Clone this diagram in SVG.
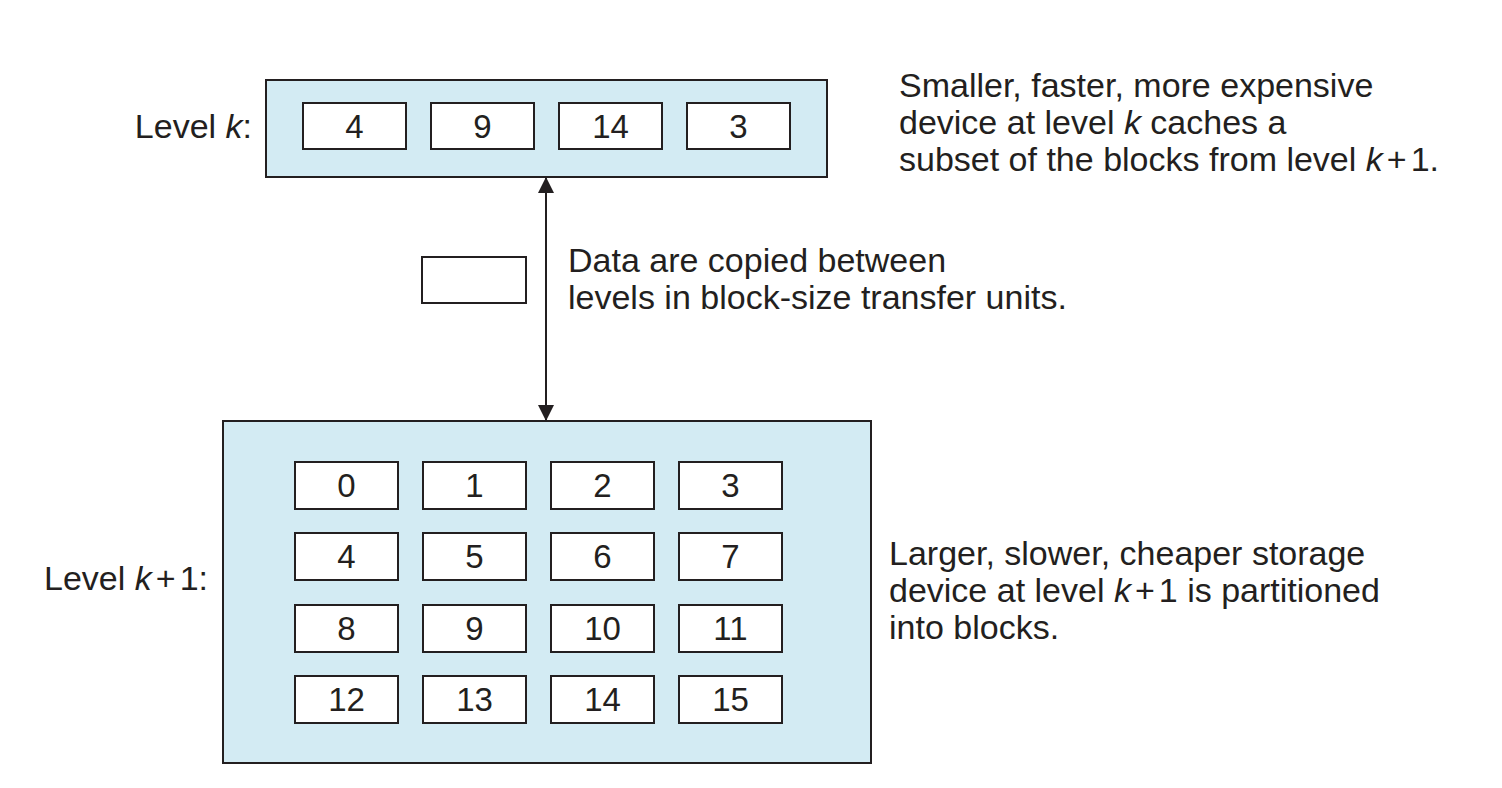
<svg xmlns="http://www.w3.org/2000/svg" width="1502" height="788" viewBox="0 0 1502 788">
<style>
text{font-family:"Liberation Sans",Arial,sans-serif;font-size:34px;fill:#231f20}
.num{text-anchor:middle;font-size:33px}
.lvl{fill:#d3ebf3;stroke:#231f20;stroke-width:2}
.blk{fill:#ffffff;stroke:#231f20;stroke-width:2}
.i{font-style:italic}
</style>
<defs>
<marker id="ah" viewBox="0 0 16 16" refX="15" refY="8" markerWidth="16" markerHeight="16" markerUnits="userSpaceOnUse" orient="auto-start-reverse">
<path d="M0,0 L16,8 L0,16 Z" fill="#231f20"/>
</marker>
</defs>
<rect width="1502" height="788" fill="#ffffff"/>
<g id="level-k">
<rect class="lvl" x="266" y="80" width="561" height="97"/>
<text x="252" y="138" text-anchor="end">Level <tspan class="i">k</tspan>:</text>
<g id="k-b4"><rect class="blk" x="303" y="103" width="103" height="46"/><text class="num" x="354.5" y="138">4</text></g>
<g id="k-b9"><rect class="blk" x="431" y="103" width="103" height="46"/><text class="num" x="482.5" y="138">9</text></g>
<g id="k-b14"><rect class="blk" x="559" y="103" width="103" height="46"/><text class="num" x="610.5" y="138">14</text></g>
<g id="k-b3"><rect class="blk" x="687" y="103" width="103" height="46"/><text class="num" x="738.5" y="138">3</text></g>
</g>
<g id="level-k1">
<rect class="lvl" x="223" y="421" width="648" height="342"/>
<text x="208" y="590" text-anchor="end">Level <tspan class="i">k</tspan><tspan dx="4">+</tspan><tspan dx="4">1:</tspan></text>
<g id="b0"><rect class="blk" x="295" y="462" width="103" height="47"/><text class="num" x="346.5" y="497">0</text></g>
<g id="b1"><rect class="blk" x="423" y="462" width="103" height="47"/><text class="num" x="474.5" y="497">1</text></g>
<g id="b2"><rect class="blk" x="551" y="462" width="103" height="47"/><text class="num" x="602.5" y="497">2</text></g>
<g id="b3"><rect class="blk" x="679" y="462" width="103" height="47"/><text class="num" x="730.5" y="497">3</text></g>
<g id="b4"><rect class="blk" x="295" y="533" width="103" height="47"/><text class="num" x="346.5" y="568">4</text></g>
<g id="b5"><rect class="blk" x="423" y="533" width="103" height="47"/><text class="num" x="474.5" y="568">5</text></g>
<g id="b6"><rect class="blk" x="551" y="533" width="103" height="47"/><text class="num" x="602.5" y="568">6</text></g>
<g id="b7"><rect class="blk" x="679" y="533" width="103" height="47"/><text class="num" x="730.5" y="568">7</text></g>
<g id="b8"><rect class="blk" x="295" y="605" width="103" height="47"/><text class="num" x="346.5" y="640">8</text></g>
<g id="b9"><rect class="blk" x="423" y="605" width="103" height="47"/><text class="num" x="474.5" y="640">9</text></g>
<g id="b10"><rect class="blk" x="551" y="605" width="103" height="47"/><text class="num" x="602.5" y="640">10</text></g>
<g id="b11"><rect class="blk" x="679" y="605" width="103" height="47"/><text class="num" x="730.5" y="640">11</text></g>
<g id="b12"><rect class="blk" x="295" y="676" width="103" height="47"/><text class="num" x="346.5" y="711">12</text></g>
<g id="b13"><rect class="blk" x="423" y="676" width="103" height="47"/><text class="num" x="474.5" y="711">13</text></g>
<g id="b14"><rect class="blk" x="551" y="676" width="103" height="47"/><text class="num" x="602.5" y="711">14</text></g>
<g id="b15"><rect class="blk" x="679" y="676" width="103" height="47"/><text class="num" x="730.5" y="711">15</text></g>
</g>
<g id="transfer-unit">
<rect class="blk" x="422" y="257" width="104" height="46" fill="#fffffb"/>
</g>
<g id="connectors">
<line x1="546" y1="178" x2="546" y2="420" stroke="#231f20" stroke-width="2" marker-start="url(#ah)" marker-end="url(#ah)"/>
</g>
<g id="notes">
<text x="899" y="97">Smaller, faster, more expensive</text>
<text x="899" y="134">device at level <tspan class="i">k</tspan> caches a</text>
<text x="899" y="171">subset of the blocks from level <tspan class="i">k</tspan><tspan dx="4">+</tspan><tspan dx="4">1.</tspan></text>
<text x="568" y="272">Data are copied between</text>
<text x="568" y="309">levels in block-size transfer units.</text>
<text x="889" y="565">Larger, slower, cheaper storage</text>
<text x="889" y="602">device at level <tspan class="i">k</tspan><tspan dx="4">+</tspan><tspan dx="4">1</tspan> is partitioned</text>
<text x="889" y="639">into blocks.</text>
</g>
</svg>
